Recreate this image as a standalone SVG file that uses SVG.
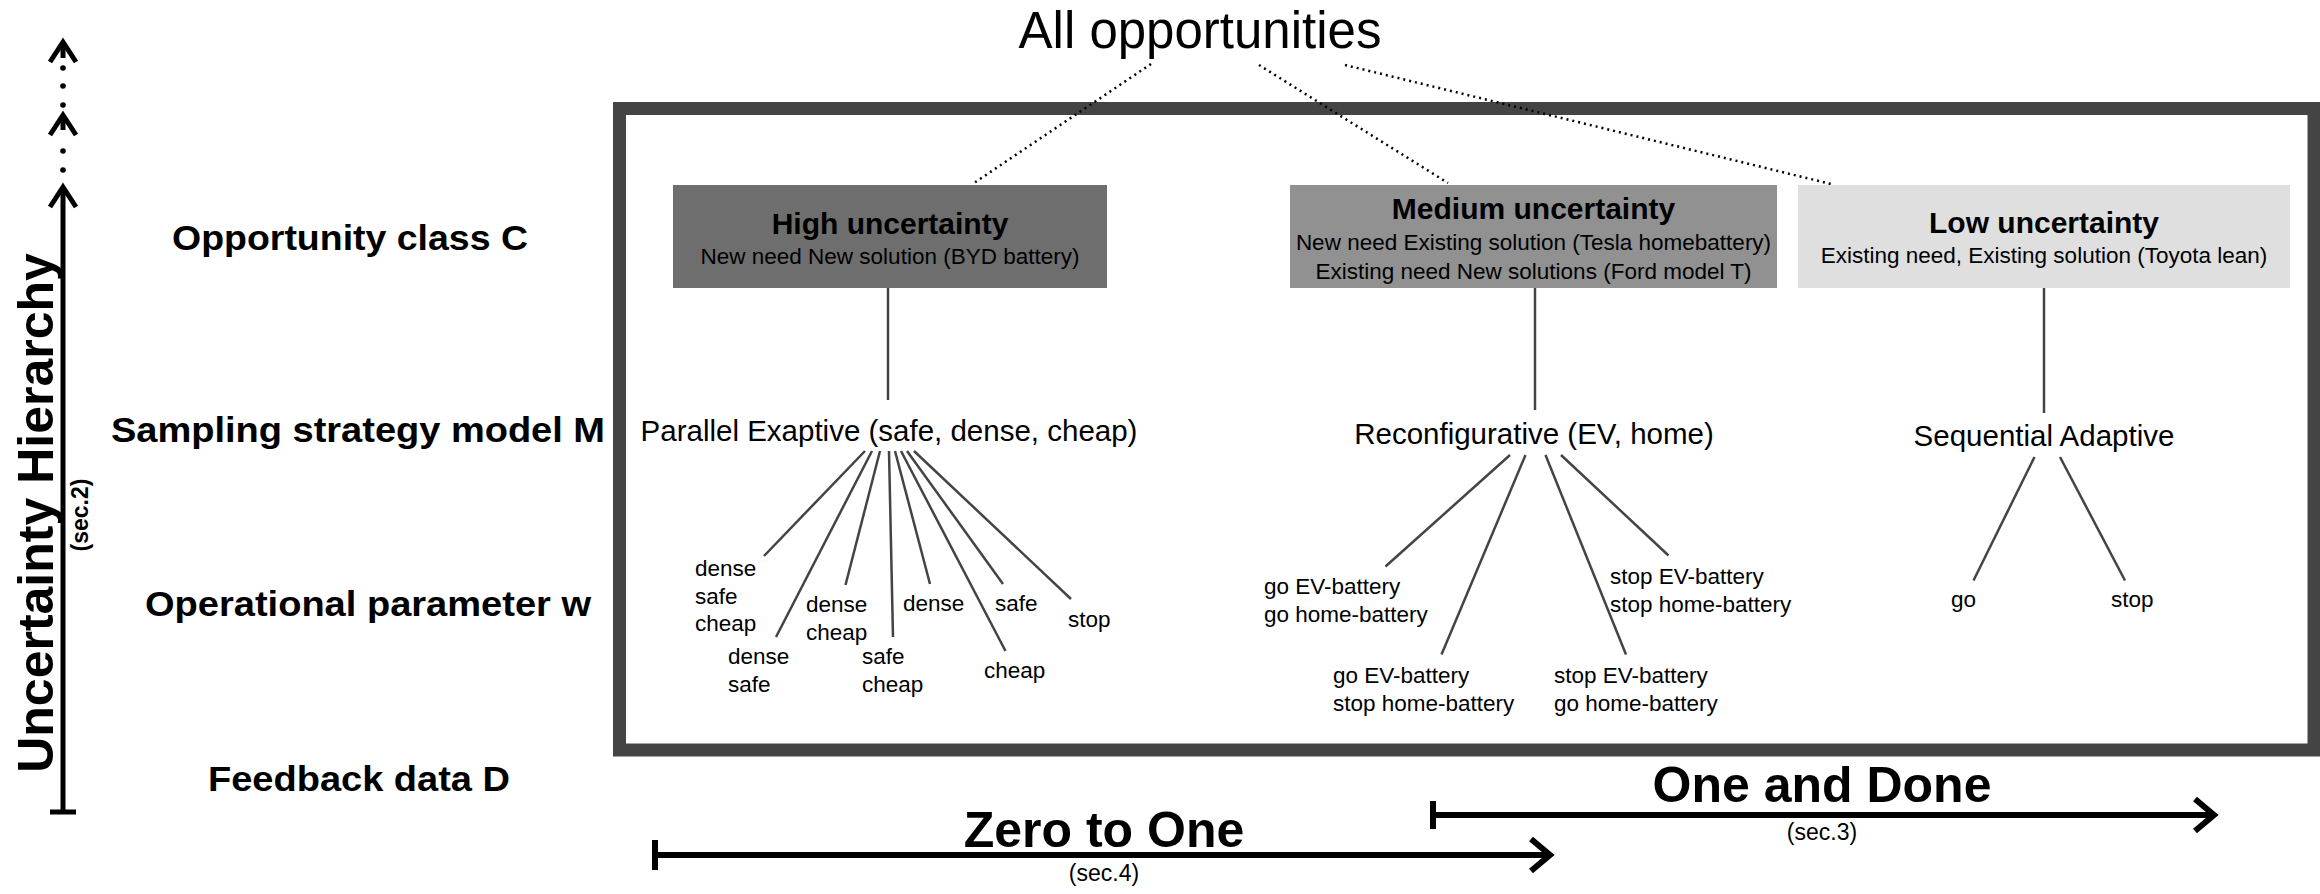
<svg xmlns="http://www.w3.org/2000/svg" width="2320" height="894" viewBox="0 0 2320 894">
<defs>
<style>
text{font-family:"Liberation Sans",Arial,Helvetica,sans-serif;fill:#000}
.lvl{font-size:35px;font-weight:bold;text-anchor:middle}
.ttl{font-size:30px;font-weight:bold;text-anchor:middle}
.sub{font-size:22.5px;text-anchor:middle}
.mid{font-size:29.5px;text-anchor:middle}
.op{font-size:22.5px}
.big{font-size:50px;font-weight:bold;text-anchor:middle}
.sec{font-size:23px;text-anchor:middle}
.conn{stroke:#444;stroke-width:2.5;fill:none}
.dot{stroke:#000;stroke-width:2.5;stroke-dasharray:2 4;fill:none}
.ax{stroke:#000;stroke-width:5;fill:none}
.arr{stroke:#000;stroke-width:6;fill:none}
</style>
</defs>
<rect width="2320" height="894" fill="#fff"/>

<g id="axis">
<line class="ax" x1="63" y1="812" x2="63" y2="188"/>
<line class="ax" x1="50" y1="812" x2="76" y2="812" stroke-width="6"/>
<polyline class="ax" points="50,207 63,187 76,207"/>
<polyline class="ax" points="50,135 63,115 76,135"/>
<polyline class="ax" points="50,62 63,42 76,62"/>
<line class="ax" x1="63" y1="115" x2="63" y2="130"/>
<line class="ax" x1="63" y1="42" x2="63" y2="58"/>
<g fill="#000">
<circle cx="63" cy="68" r="2.8"/><circle cx="63" cy="86" r="2.8"/><circle cx="63" cy="105" r="2.8"/>
<circle cx="63" cy="151" r="2.8"/><circle cx="63" cy="170" r="2.8"/>
</g>
<text transform="translate(53,513) rotate(-90)" font-size="50" font-weight="bold" text-anchor="middle">Uncertainty Hierarchy</text>
<text transform="translate(88,515) rotate(-90)" font-size="23" font-weight="bold" text-anchor="middle">(sec.2)</text>
</g>

<g id="level-labels">
<text class="lvl" x="350" y="250" textLength="356" lengthAdjust="spacingAndGlyphs">Opportunity class C</text>
<text class="lvl" x="358" y="442" textLength="494" lengthAdjust="spacingAndGlyphs">Sampling strategy model M</text>
<text class="lvl" x="368" y="616" textLength="446" lengthAdjust="spacingAndGlyphs">Operational parameter w</text>
<text class="lvl" x="359" y="791" textLength="302" lengthAdjust="spacingAndGlyphs">Feedback data D</text>
</g>

<g id="frame">
<rect x="619.5" y="108.5" width="1694.5" height="641.5" fill="none" stroke="#444" stroke-width="13"/>
</g>

<g id="root">
<text x="1200" y="48" font-size="51" text-anchor="middle">All opportunities</text>
</g>

<g id="connectors">
<line class="dot" x1="1151" y1="64" x2="974" y2="183"/>
<line class="dot" x1="1259" y1="65" x2="1448" y2="183"/>
<line class="dot" x1="1345" y1="65" x2="1831" y2="184"/>
<line class="conn" x1="888" y1="288" x2="888" y2="400"/>
<line class="conn" x1="1535" y1="288" x2="1535" y2="410"/>
<line class="conn" x1="2044" y1="288" x2="2044" y2="413"/>
<line class="conn" x1="865" y1="451" x2="764" y2="556"/>
<line class="conn" x1="872" y1="451" x2="776" y2="637"/>
<line class="conn" x1="880" y1="451" x2="845.5" y2="585"/>
<line class="conn" x1="889" y1="451" x2="893" y2="637"/>
<line class="conn" x1="895" y1="451" x2="930" y2="584"/>
<line class="conn" x1="901" y1="451" x2="1005.5" y2="651"/>
<line class="conn" x1="907" y1="451" x2="1003" y2="584"/>
<line class="conn" x1="914" y1="451" x2="1071" y2="599"/>
<line class="conn" x1="1510" y1="455" x2="1385.5" y2="566.5"/>
<line class="conn" x1="1525.5" y1="455" x2="1441.5" y2="654.5"/>
<line class="conn" x1="1545.5" y1="455" x2="1626" y2="654.5"/>
<line class="conn" x1="1561" y1="455" x2="1668.5" y2="555.5"/>
<line class="conn" x1="2034.5" y1="457" x2="1973.5" y2="580.5"/>
<line class="conn" x1="2060" y1="457" x2="2125" y2="580.5"/>
</g>

<g id="high">
<rect x="673" y="185" width="434" height="103" fill="#6e6e6e"/>
<text class="ttl" x="890" y="234">High uncertainty</text>
<text class="sub" x="890" y="264">New need New solution (BYD battery)</text>
</g>
<g id="medium">
<rect x="1290" y="185" width="487" height="103" fill="#919191"/>
<text class="ttl" x="1533.5" y="219">Medium uncertainty</text>
<text class="sub" x="1533.5" y="250">New need Existing solution (Tesla homebattery)</text>
<text class="sub" x="1533.5" y="279">Existing need New solutions (Ford model T)</text>
</g>
<g id="low">
<rect x="1798" y="185" width="492" height="103" fill="#dfdfdf"/>
<text class="ttl" x="2044" y="233">Low uncertainty</text>
<text class="sub" x="2044" y="263">Existing need, Existing solution (Toyota lean)</text>
</g>

<g id="parallel"><text class="mid" x="889" y="441">Parallel Exaptive (safe, dense, cheap)</text></g>
<g id="reconfig"><text class="mid" x="1534" y="444">Reconfigurative (EV, home)</text></g>
<g id="sequential"><text class="mid" x="2044" y="446">Sequential Adaptive</text></g>

<g id="ops-high">
<text class="op" x="695" y="576">dense<tspan x="695" dy="27.5">safe</tspan><tspan x="695" dy="27.5">cheap</tspan></text>
<text class="op" x="728" y="664">dense<tspan x="728" dy="28">safe</tspan></text>
<text class="op" x="806" y="612">dense<tspan x="806" dy="28">cheap</tspan></text>
<text class="op" x="862" y="664">safe<tspan x="862" dy="28">cheap</tspan></text>
<text class="op" x="903" y="611">dense</text>
<text class="op" x="984" y="678">cheap</text>
<text class="op" x="995" y="611">safe</text>
<text class="op" x="1068" y="627">stop</text>
</g>
<g id="ops-medium">
<text class="op" x="1264" y="594">go EV-battery<tspan x="1264" dy="27.5">go home-battery</tspan></text>
<text class="op" x="1333" y="683">go EV-battery<tspan x="1333" dy="27.5">stop home-battery</tspan></text>
<text class="op" x="1554" y="683">stop EV-battery<tspan x="1554" dy="27.5">go home-battery</tspan></text>
<text class="op" x="1610" y="584">stop EV-battery<tspan x="1610" dy="27.5">stop home-battery</tspan></text>
</g>
<g id="ops-low">
<text class="op" x="1951" y="607">go</text>
<text class="op" x="2111" y="607">stop</text>
</g>

<g id="zero-to-one">
<line class="arr" x1="655" y1="855" x2="1548" y2="855"/>
<line class="arr" x1="655" y1="840" x2="655" y2="870" stroke-width="4"/>
<polyline class="arr" points="1531,839 1550,855 1531,871"/>
<text class="big" x="1104" y="847">Zero to One</text>
<text class="sec" x="1104" y="881">(sec.4)</text>
</g>
<g id="one-and-done">
<line class="arr" x1="1433" y1="815" x2="2212" y2="815"/>
<line class="arr" x1="1433" y1="801" x2="1433" y2="829" stroke-width="4"/>
<polyline class="arr" points="2195,799 2214,815 2195,831"/>
<text class="big" x="1822" y="802">One and Done</text>
<text class="sec" x="1822" y="840">(sec.3)</text>
</g>
</svg>
